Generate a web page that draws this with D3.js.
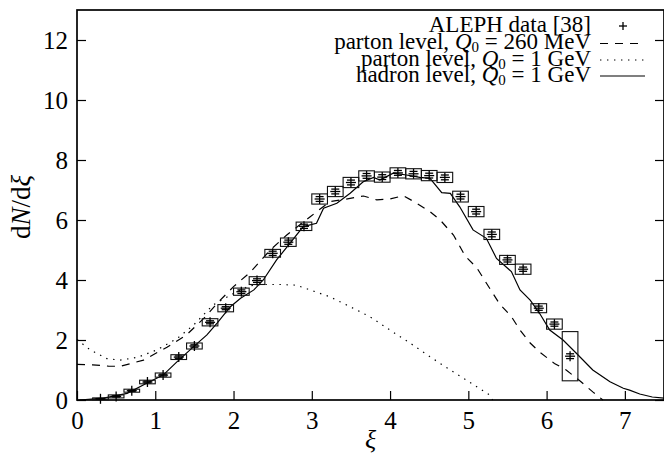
<!DOCTYPE html>
<html>
<head>
<meta charset="utf-8">
<title>aleph-xi-spectrum</title>
<style>
body { margin: 0; background: #fff; }
text { font-family: "Liberation Serif", "Times New Roman", serif; fill: #000; }
.curve { fill: none; stroke: #000; stroke-width: 1.2; }
.box { fill: none; stroke: #111; stroke-width: 1.1; }
.mark { stroke: #000; stroke-width: 1.3; }
.frame { fill: none; stroke: #000; stroke-width: 1.7; }
</style>
</head>
<body>
<script src="https://d3js.org/d3.v7.min.js"></script>
<script>
// ALEPH data: bin centres, values, half-height of the systematic box, statistical error
var alephXi   = [0.3, 0.5, 0.7, 0.9, 1.1, 1.3, 1.5, 1.7, 1.9, 2.1, 2.3, 2.5, 2.7, 2.9, 3.1, 3.3,
                 3.5, 3.7, 3.9, 4.1, 4.3, 4.5, 4.7, 4.9, 5.1, 5.3, 5.5, 5.7, 5.9, 6.1, 6.3];
var alephVal  = [0.04, 0.12, 0.31, 0.60, 0.83, 1.43, 1.80, 2.59, 3.06, 3.61, 3.98, 4.89, 5.26, 5.79, 6.70, 6.95,
                 7.25, 7.47, 7.43, 7.57, 7.54, 7.48, 7.42, 6.78, 6.28, 5.52, 4.67, 4.36, 3.06, 2.53, 1.46];
var alephSys  = [0.03, 0.05, 0.05, 0.06, 0.07, 0.08, 0.10, 0.12, 0.12, 0.12, 0.13, 0.13, 0.14, 0.14, 0.17, 0.17,
                 0.17, 0.17, 0.17, 0.17, 0.17, 0.17, 0.17, 0.18, 0.17, 0.17, 0.15, 0.17, 0.15, 0.17, 0.82];
var alephStat = [0.01, 0.02, 0.02, 0.03, 0.03, 0.04, 0.04, 0.05, 0.05, 0.06, 0.06, 0.07, 0.07, 0.07, 0.08, 0.08,
                 0.08, 0.08, 0.08, 0.08, 0.08, 0.08, 0.08, 0.08, 0.08, 0.08, 0.07, 0.07, 0.07, 0.07, 0.08];

// hadron level, Q0 = 1 GeV (solid)
var hadronXi  = [0.03, 0.34, 0.64, 0.89, 1.10, 1.28, 1.49, 1.66, 1.79, 1.96, 2.09, 2.26, 2.38, 2.55, 2.72, 2.89,
                 3.06, 3.15, 3.32, 3.49, 3.66, 3.79, 3.87, 4.04, 4.21, 4.38, 4.51, 4.66, 4.77, 4.89, 5.06, 5.23,
                 5.36, 5.55, 5.66, 5.79, 5.91, 6.04, 6.21, 6.38, 6.59, 6.81, 6.98, 7.06, 7.19, 7.35, 7.50];
var hadronVal = [0.00, 0.06, 0.22, 0.56, 0.83, 1.28, 1.78, 2.17, 2.56, 3.11, 3.39, 3.67, 4.00, 4.67, 5.22, 5.78,
                 5.89, 6.39, 6.56, 6.89, 7.28, 7.42, 7.33, 7.56, 7.50, 7.42, 7.39, 6.91, 6.89, 6.44, 5.67, 5.39,
                 4.72, 4.28, 3.67, 3.33, 2.89, 2.33, 2.00, 1.56, 1.00, 0.61, 0.39, 0.33, 0.20, 0.10, 0.06];

// parton level, Q0 = 260 MeV (dashed)
var parton260Xi  = [0.00, 0.20, 0.40, 0.55, 0.85, 1.15, 1.40, 1.62, 1.79, 2.00, 2.21, 2.47, 2.68, 2.98, 3.23, 3.49,
                    3.66, 3.83, 4.00, 4.17, 4.34, 4.51, 4.64, 4.81, 4.96, 5.11, 5.23, 5.40, 5.55, 5.66, 5.79, 5.91,
                    6.10, 6.25, 6.42, 6.59, 6.72];
var parton260Val = [1.19, 1.17, 1.13, 1.12, 1.33, 1.76, 2.17, 2.72, 3.22, 3.78, 4.25, 5.00, 5.50, 6.11, 6.61, 6.72,
                    6.80, 6.67, 6.70, 6.81, 6.56, 6.28, 6.00, 5.50, 4.80, 4.40, 3.90, 3.20, 2.78, 2.33, 1.90, 1.60,
                    1.22, 1.00, 0.65, 0.27, 0.00];

// parton level, Q0 = 1 GeV (dotted)
var parton1Xi  = [0.00, 0.06, 0.17, 0.38, 0.55, 0.77, 1.02, 1.28, 1.49, 1.74, 2.04, 2.20, 2.34, 2.60, 2.80, 3.00,
                  3.23, 3.49, 3.74, 4.00, 4.26, 4.51, 4.77, 5.02, 5.27, 5.31];
var parton1Val = [2.02, 1.89, 1.67, 1.38, 1.33, 1.42, 1.67, 2.05, 2.50, 3.17, 3.61, 3.80, 3.85, 3.85, 3.83, 3.65,
                  3.44, 3.11, 2.78, 2.33, 1.89, 1.44, 1.00, 0.59, 0.17, 0.00];

var xiTicks = [0, 1, 2, 3, 4, 5, 6, 7];
var dndxiTicks = [0, 2, 4, 6, 8, 10, 12];

var totalWidth = 664, totalHeight = 461;
var margin = { top: 10, right: 0, bottom: 61, left: 77 };
var width = totalWidth - margin.left - margin.right,
    height = totalHeight - margin.top - margin.bottom;

var svg = d3.select("body").append("svg")
    .attr("width", totalWidth)
    .attr("height", totalHeight);

var g = svg.append("g")
    .attr("transform", "translate(" + margin.left + "," + margin.top + ")");

var x = d3.scaleLinear().domain([0, 7.5]).range([0, width]);
var y = d3.scaleLinear().domain([0, 13]).range([height, 0]);

// axes: ticks point inward, y ticks mirrored on the right, none on top
var xAxis = g.append("g")
    .attr("transform", "translate(0," + height + ")")
    .call(d3.axisBottom(x).tickValues(xiTicks).tickSizeInner(-9).tickSizeOuter(0).tickPadding(11)
        .tickFormat(d3.format("d")));
var yAxis = g.append("g")
    .call(d3.axisLeft(y).tickValues(dndxiTicks).tickSizeInner(-9).tickSizeOuter(0).tickPadding(9)
        .tickFormat(d3.format("d")));
var yAxisRight = g.append("g")
    .attr("transform", "translate(" + width + ",0)")
    .call(d3.axisRight(y).tickValues(dndxiTicks).tickSizeInner(-9).tickSizeOuter(0).tickFormat(""));

[xAxis, yAxis, yAxisRight].forEach(function (a) {
    a.select(".domain").remove();
    a.selectAll(".tick line").attr("stroke", "#000").attr("stroke-width", 1.2);
    a.selectAll(".tick text")
        .attr("fill", "#000")
        .style("font-family", "'Liberation Serif', serif")
        .style("font-size", "25px");
});

// frame
g.append("rect")
    .attr("class", "frame")
    .attr("x", 0).attr("y", 0)
    .attr("width", width).attr("height", height);

// curves
var line = d3.line()
    .x(function (d) { return x(d[0]); })
    .y(function (d) { return y(d[1]); });

g.append("path")
    .attr("class", "curve")
    .attr("d", line(d3.zip(parton1Xi, parton1Val)))
    .attr("stroke-dasharray", "1.4,5.6");
g.append("path")
    .attr("class", "curve")
    .attr("d", line(d3.zip(parton260Xi, parton260Val)))
    .attr("stroke-dasharray", "8,7");
g.append("path")
    .attr("class", "curve")
    .attr("d", line(d3.zip(hadronXi, hadronVal)));

// data: systematic boxes, crosses and statistical bars
var points = alephXi.map(function (xi, i) {
    return { xi: xi, val: alephVal[i], sys: alephSys[i], stat: alephStat[i] };
});

var pt = g.selectAll(".pt").data(points).enter().append("g").attr("class", "pt");

pt.append("rect")
    .attr("class", "box")
    .attr("x", function (d) { return x(d.xi - 0.1); })
    .attr("width", function (d) { return x(d.xi + 0.1) - x(d.xi - 0.1); })
    .attr("y", function (d) { return y(d.val + d.sys); })
    .attr("height", function (d) { return y(d.val - d.sys) - y(d.val + d.sys); });

pt.append("line").attr("class", "mark")
    .attr("x1", function (d) { return x(d.xi) - 5; })
    .attr("x2", function (d) { return x(d.xi) + 5; })
    .attr("y1", function (d) { return y(d.val); })
    .attr("y2", function (d) { return y(d.val); });
pt.append("line").attr("class", "mark")
    .attr("x1", function (d) { return x(d.xi); })
    .attr("x2", function (d) { return x(d.xi); })
    .attr("y1", function (d) { return y(d.val) - 5; })
    .attr("y2", function (d) { return y(d.val) + 5; });
[1, -1].forEach(function (s) {
    pt.append("line").attr("class", "mark")
        .attr("x1", function (d) { return x(d.xi) - 4; })
        .attr("x2", function (d) { return x(d.xi) + 4; })
        .attr("y1", function (d) { return y(d.val + s * d.stat); })
        .attr("y2", function (d) { return y(d.val + s * d.stat); });
});

// axis titles
svg.append("text")
    .attr("transform", "translate(30,207) rotate(-90)")
    .attr("text-anchor", "middle")
    .style("font-size", "27px")
    .html('d<tspan font-style="italic">N</tspan>/d<tspan font-style="italic">ξ</tspan>');

svg.append("text")
    .attr("x", margin.left + x(3.75))
    .attr("y", 448)
    .attr("text-anchor", "middle")
    .style("font-size", "26px")
    .style("font-style", "italic")
    .text("ξ");

// key
var keyX = 591, sampleX1 = 600, sampleX2 = 645;
var keyRows = [
    { pre: "ALEPH data [38]", q: null, base: 32, mid: 26, kind: "plus" },
    { pre: "parton level, ", q: " = 260 MeV", base: 49, mid: 43.5, kind: "dash" },
    { pre: "parton level, ", q: " = 1 GeV", base: 65.5, mid: 60, kind: "dot" },
    { pre: "hadron level, ", q: " = 1 GeV", base: 82, mid: 76, kind: "solid" }
];

keyRows.forEach(function (r) {
    var t = svg.append("text")
        .attr("x", keyX).attr("y", r.base)
        .attr("text-anchor", "end")
        .style("font-size", "23px");
    t.append("tspan").text(r.pre);
    if (r.q) {
        t.append("tspan").attr("font-style", "italic").text("Q");
        t.append("tspan").attr("dy", 3).style("font-size", "15px").text("0");
        t.append("tspan").attr("dy", -3).text(r.q);
    }
    if (r.kind === "plus") {
        svg.append("line").attr("class", "mark")
            .attr("x1", 619).attr("x2", 627).attr("y1", r.mid).attr("y2", r.mid);
        svg.append("line").attr("class", "mark")
            .attr("x1", 623).attr("x2", 623).attr("y1", r.mid - 4).attr("y2", r.mid + 4);
    } else {
        svg.append("line").attr("class", "curve")
            .attr("x1", sampleX1).attr("x2", sampleX2).attr("y1", r.mid).attr("y2", r.mid)
            .attr("stroke-dasharray", r.kind === "dash" ? "8,7" : r.kind === "dot" ? "1.4,5.6" : null);
    }
});
</script>
</body>
</html>
